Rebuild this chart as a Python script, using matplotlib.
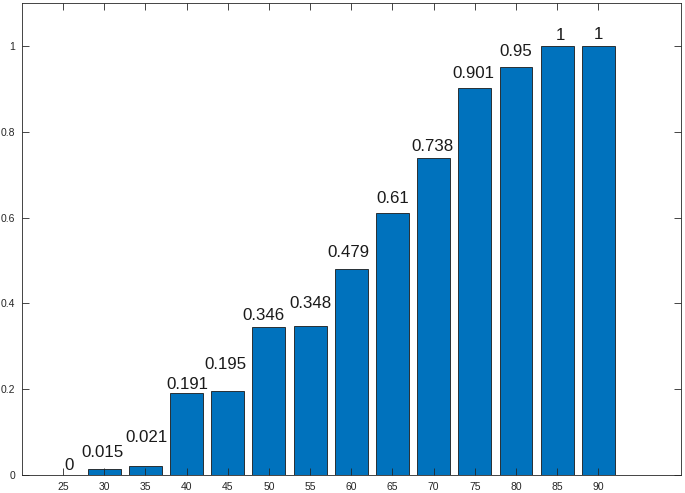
import matplotlib
matplotlib.use("Agg")
import matplotlib.pyplot as plt

categories = [25, 30, 35, 40, 45, 50, 55, 60, 65, 70, 75, 80, 85, 90]
values = [0, 0.015, 0.021, 0.191, 0.195, 0.346, 0.348, 0.479, 0.61, 0.738, 0.901, 0.95, 1, 1]
labels = ["0", "0.015", "0.021", "0.191", "0.195", "0.346", "0.348", "0.479", "0.61", "0.738", "0.901", "0.95", "1", "1"]
yticks = [0, 0.2, 0.4, 0.6, 0.8, 1]
yticklabels = ["0", "0.2", "0.4", "0.6", "0.8", "1"]

# label placement (layout only): pixel offsets of each value label from its bar top
label_dy_px = [5, 12, 24, 4.4, 22, 6.4, 18, 12, 10, 7.7, 10, 11, 6, 6.7]
label_dx_px = [5.5, -2, 1, 1, -2, -5.5, 0, -3.4, 0, -1.7, -1, 0, 3, 0]

plt.rcParams['font.family'] = ['Liberation Sans', 'DejaVu Sans']

fig = plt.figure(figsize=(6.85, 4.93), dpi=100)
ax = fig.add_axes([0.032, 0.0365, 0.9617, 0.9575])

ax.bar(categories, values, width=4, color='#0072BD', edgecolor='#1a1a1a', linewidth=0.6)
px2pt = 72.0 / fig.dpi
for x, v, t, dx, dy in zip(categories, values, labels, label_dx_px, label_dy_px):
    ax.annotate(t, xy=(x, v), xytext=(dx * px2pt, dy * px2pt), textcoords='offset points',
                ha='center', va='baseline', fontsize=12.2, color='#1a1a1a')

ax.set_xlim(20, 100)
ax.set_ylim(0, 1.1)
ax.set_xticks(categories)
ax.set_xticklabels([str(c) for c in categories])
ax.set_yticks(yticks)
ax.set_yticklabels(yticklabels)
ax.tick_params(direction='in', length=5, width=0.6, labelsize=7.5, colors='#262626',
               top=True, right=True, pad=5)
for s in ax.spines.values():
    s.set_linewidth(0.6)
    s.set_color('#262626')

fig.savefig("out.png", dpi=100)
